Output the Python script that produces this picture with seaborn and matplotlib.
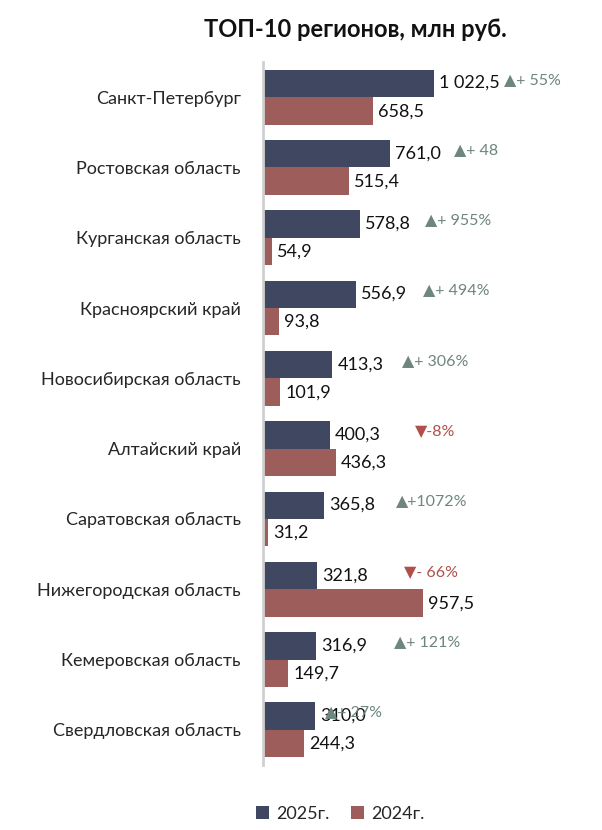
import numpy as np
import pandas as pd
import matplotlib
matplotlib.use("Agg")
import matplotlib.pyplot as plt
import seaborn as sns

regions = ["Санкт-Петербург", "Ростовская область", "Курганская область", "Красноярский край",
           "Новосибирская область", "Алтайский край", "Саратовская область",
           "Нижегородская область", "Кемеровская область", "Свердловская область"]
v2025 = [1022.5, 761.0, 578.8, 556.9, 413.3, 400.3, 365.8, 321.8, 316.9, 310.0]
v2024 = [658.5, 515.4, 54.9, 93.8, 101.9, 436.3, 31.2, 957.5, 149.7, 244.3]
lab2025 = ["1 022,5", "761,0", "578,8", "556,9", "413,3", "400,3", "365,8", "321,8", "316,9", "310,0"]
lab2024 = ["658,5", "515,4", "54,9", "93,8", "101,9", "436,3", "31,2", "957,5", "149,7", "244,3"]
deltas = ["▲+ 55%", "▲+ 48", "▲+ 955%", "▲+ 494%", "▲+ 306%", "▼-8%", "▲+1072%", "▼- 66%", "▲+ 121%", "▲+ 27%"]
delta_x = [1440, 1140, 965, 955, 830, 905, 795, 840, 785, 370]

sns.set_theme(style="white")
plt.rcParams["font.family"] = ["Lato", "DejaVu Sans"]

df = pd.DataFrame({"region": regions * 2, "value": v2025 + v2024,
                   "year": ["2025г."] * 10 + ["2024г."] * 10})

fig = plt.figure(figsize=(6.02, 8.30), dpi=100)
ax = fig.add_axes([263 / 602, 1 - 765 / 830, 335 / 602, 703 / 830])
sns.barplot(data=df, y="region", x="value", hue="year", orient="h",
            palette=["#3B4466", "#A85450"], width=0.78, gap=0, linewidth=0,
            ax=ax, legend=True)
ax.set_xlim(0, 2000)
ax.set_xlabel("")
ax.set_ylabel("")
ax.set_xticks([])
ax.tick_params(axis="y", length=0, labelsize=13, pad=16)
for s in ["top", "right", "bottom"]:
    ax.spines[s].set_visible(False)
ax.spines["left"].set_color("#d0d0d0")
ax.spines["left"].set_linewidth(2)

for i in range(10):
    ax.text(v2025[i] + 30, i - 0.2, lab2025[i], va="center", fontsize=13, color="#111111")
    ax.text(v2024[i] + 30, i + 0.2, lab2024[i], va="center", fontsize=13, color="#111111")
    col = "#B0504C" if deltas[i].startswith("▼") else "#6E8580"
    ax.text(delta_x[i], i - 0.25, deltas[i], va="center", fontsize=11.5, color=col)

ax.legend(loc="upper center", bbox_to_anchor=(0.23, -0.035), ncol=2, frameon=False,
          fontsize=13, handlelength=0.7, handleheight=0.7, columnspacing=1.2,
          handletextpad=0.4)
fig.text(0.59, 0.965, "ТОП-10 регионов, млн руб.", ha="center", va="center",
         fontsize=17, fontweight="bold", color="#111111")
fig.savefig("out.png", dpi=100)
